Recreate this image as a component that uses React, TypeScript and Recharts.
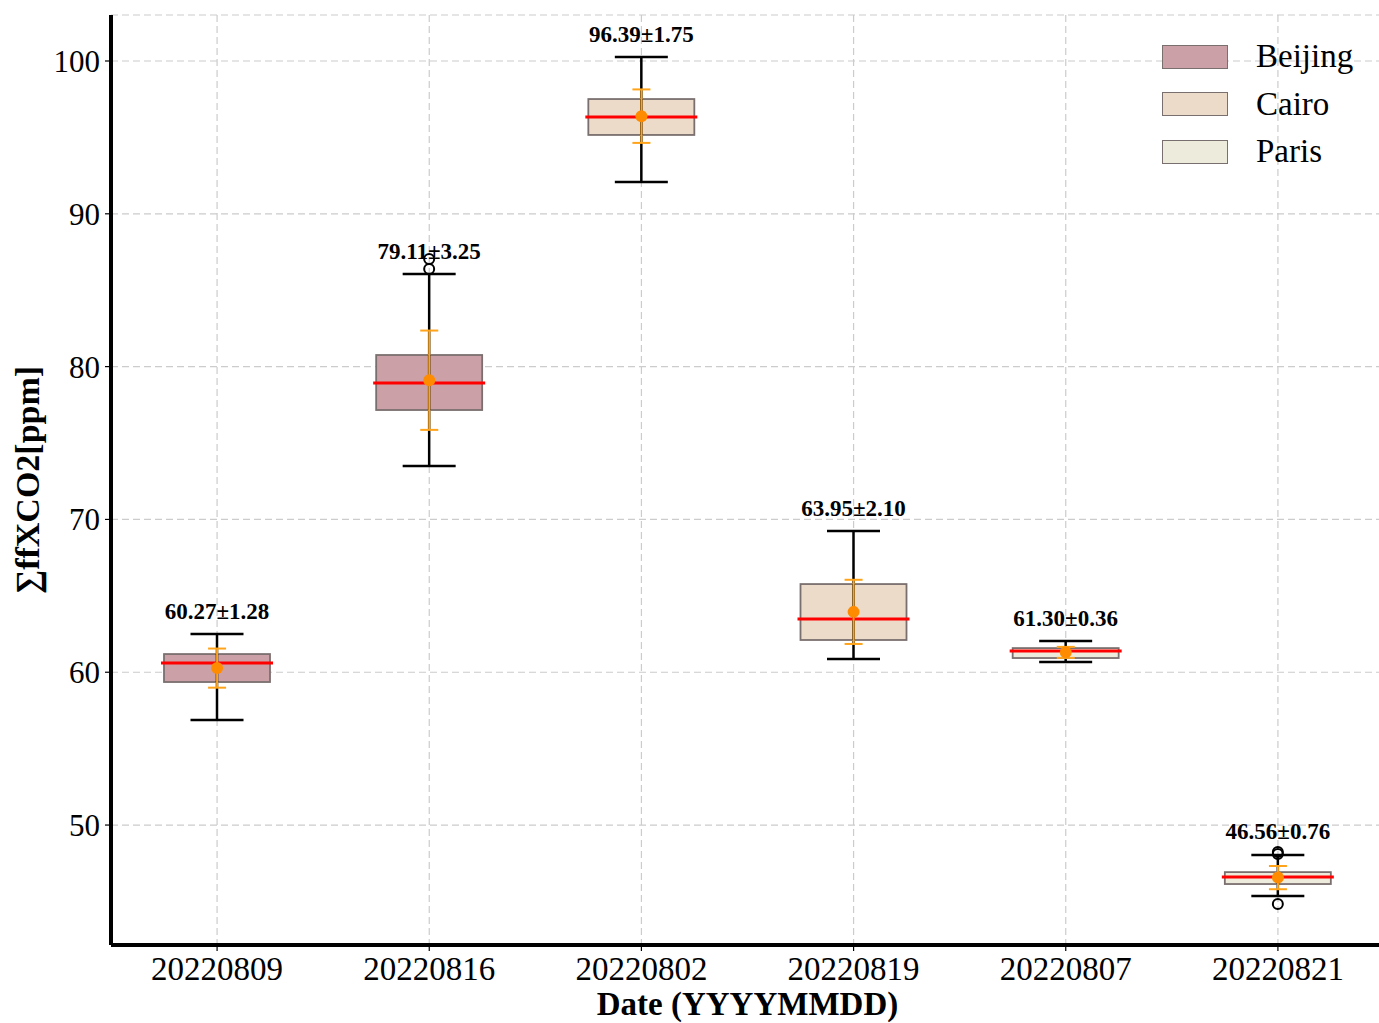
import { Bar, CartesianGrid, ComposedChart, ErrorBar, Legend, Scatter, XAxis, YAxis } from "recharts";

// box statistics per acquisition date
const dates = ["20220809", "20220816", "20220802", "20220819", "20220807", "20220821"];
const cities = ["Beijing", "Beijing", "Cairo", "Cairo", "Paris", "Paris"];
const whiskerLow = [56.87, 73.49, 92.08, 60.86, 60.67, 45.35];
const q1 = [59.36, 77.16, 95.16, 62.11, 60.93, 46.14];
const median = [60.6, 78.93, 96.34, 63.48, 61.39, 46.6];
const q3 = [61.19, 80.76, 97.51, 65.77, 61.58, 46.92];
const whiskerHigh = [62.5, 86.06, 100.26, 69.24, 62.04, 48.04];
const outliers = [[], [86.39, 87.04], [], [], [], [44.83, 48.1, 48.23]];
const means = [60.27, 79.11, 96.39, 63.95, 61.3, 46.56];
const sds = [1.28, 3.25, 1.75, 2.1, 0.36, 0.76];

const cityNames = ["Beijing", "Cairo", "Paris"];
const cityFill: Record<string, string> = {
  Beijing: "#CBA0A7",
  Cairo: "#EBDBC8",
  Paris: "#EDEBDB",
};
const yTicks = [50, 60, 70, 80, 90, 100];

const FONT = "'Liberation Serif', 'Times New Roman', serif";

const rows = dates.map((date, i) => ({
  date,
  city: cities[i],
  lo: whiskerLow[i],
  q1: q1[i],
  med: median[i],
  q3: q3[i],
  hi: whiskerHigh[i],
  fliers: outliers[i],
  mean: means[i],
  sd: sds[i],
}));

// draws box, whiskers, median, fliers and the mean±sd text from the bar's own geometry
function BoxShape(props: any) {
  const { x, y, width, height, payload } = props;
  const k = height / (payload.hi - payload.lo);
  const py = (v: number) => y + (payload.hi - v) * k;
  const cx = x + width / 2;
  const cap = width / 4;
  return (
    <g>
      <line x1={cx} x2={cx} y1={py(payload.hi)} y2={py(payload.q3)} stroke="#000" strokeWidth={2.5} />
      <line x1={cx} x2={cx} y1={py(payload.q1)} y2={py(payload.lo)} stroke="#000" strokeWidth={2.5} />
      <line x1={cx - cap} x2={cx + cap} y1={py(payload.hi)} y2={py(payload.hi)} stroke="#000" strokeWidth={2.5} />
      <line x1={cx - cap} x2={cx + cap} y1={py(payload.lo)} y2={py(payload.lo)} stroke="#000" strokeWidth={2.5} />
      <rect
        x={x}
        y={py(payload.q3)}
        width={width}
        height={py(payload.q1) - py(payload.q3)}
        fill={cityFill[payload.city]}
        stroke="#7a6f6f"
        strokeWidth={1.8}
      />
      <line x1={cx} x2={cx} y1={py(payload.q3)} y2={py(payload.q1)} stroke="#000" strokeWidth={2.5} />
      <line x1={x - 3} x2={x + width + 3} y1={py(payload.med)} y2={py(payload.med)} stroke="#FF0000" strokeWidth={3} />
      {payload.fliers.map((v: number, j: number) => (
        <circle key={j} cx={cx} cy={py(v)} r={5} fill="none" stroke="#000" strokeWidth={2} />
      ))}
      <text
        x={cx}
        y={py(payload.hi) - 23}
        textAnchor="middle"
        dominantBaseline="central"
        fontFamily={FONT}
        fontWeight="bold"
        fontSize={23}
        fill="#000"
      >
        {`${payload.mean.toFixed(2)}±${payload.sd.toFixed(2)}`}
      </text>
    </g>
  );
}

function LegendBlock() {
  return (
    <div style={{ fontFamily: FONT }}>
      {cityNames.map((c) => (
        <div key={c} style={{ display: "flex", alignItems: "center", height: 47.5 }}>
          <div
            style={{
              width: 64,
              height: 22,
              background: cityFill[c],
              border: "1.6px solid #7a6f6f",
              marginRight: 28,
            }}
          />
          <span style={{ fontSize: 33, color: "#000" }}>{c}</span>
        </div>
      ))}
    </div>
  );
}

function YTitle(props: any) {
  const vb = props.viewBox;
  const cx = vb.x + 27;
  const cy = vb.y + vb.height / 2;
  return (
    <text
      x={cx}
      y={cy}
      transform={`rotate(-90, ${cx}, ${cy})`}
      textAnchor="middle"
      dominantBaseline="central"
      fontFamily={FONT}
      fontWeight="bold"
      fontSize={34}
      fill="#000"
    >
      ∑ffXCO2[ppm]
    </text>
  );
}

function XTitle(props: any) {
  const vb = props.viewBox;
  return (
    <text
      x={vb.x + vb.width / 2}
      y={vb.y + 59}
      textAnchor="middle"
      dominantBaseline="central"
      fontFamily={FONT}
      fontWeight="bold"
      fontSize={33}
      fill="#000"
    >
      Date (YYYYMMDD)
    </text>
  );
}

export default function App() {
  return (
    <div style={{ position: "fixed", left: 0, top: 0, width: 1379, height: 1023, overflow: "hidden", background: "#fff" }}>
      <ComposedChart
        width={1390}
        height={1023}
        data={rows}
        margin={{ top: 15, right: 6, bottom: 0, left: 0 }}
        barCategoryGap={0}
      >
        <CartesianGrid stroke="#cccccc" strokeDasharray="7 4" strokeWidth={1.2} />
        <XAxis
          dataKey="date"
          height={78}
          axisLine={{ stroke: "#000", strokeWidth: 4 }}
          tickLine={{ stroke: "#000", strokeWidth: 1.2 }}
          tickSize={6}
          tickMargin={6}
          tick={{ fontFamily: FONT, fontSize: 33, fill: "#000" }}
          label={<XTitle />}
        />
        <XAxis
          xAxisId="top"
          dataKey="date"
          orientation="top"
          height={0}
          tick={false}
          tickLine={false}
          axisLine={{ stroke: "#000", strokeWidth: 4 }}
        />
        <YAxis
          type="number"
          domain={[42.15, 103.01]}
          ticks={yTicks}
          allowDataOverflow
          width={111}
          axisLine={{ stroke: "#000", strokeWidth: 4 }}
          tickLine={{ stroke: "#000", strokeWidth: 1.2 }}
          tickSize={6}
          tickMargin={5}
          tick={{ fontFamily: FONT, fontSize: 31, fill: "#000" }}
          label={<YTitle />}
        />
        <Bar
          dataKey={(d: any) => [d.lo, d.hi]}
          barSize={106}
          shape={<BoxShape />}
          isAnimationActive={false}
        />
        <Scatter
          dataKey="mean"
          fill="#FF8C00"
          isAnimationActive={false}
          shape={(p: any) => <circle cx={p.cx} cy={p.cy} r={6} fill="#FF8C00" />}
        >
          <ErrorBar dataKey="sd" direction="y" stroke="#FFA31A" strokeWidth={2} width={9} />
        </Scatter>
        <Legend
          layout="vertical"
          align="center"
          verticalAlign="middle"
          wrapperStyle={{ top: 33, left: 1162, width: 217 }}
          content={() => <LegendBlock />}
        />
      </ComposedChart>
    </div>
  );
}
